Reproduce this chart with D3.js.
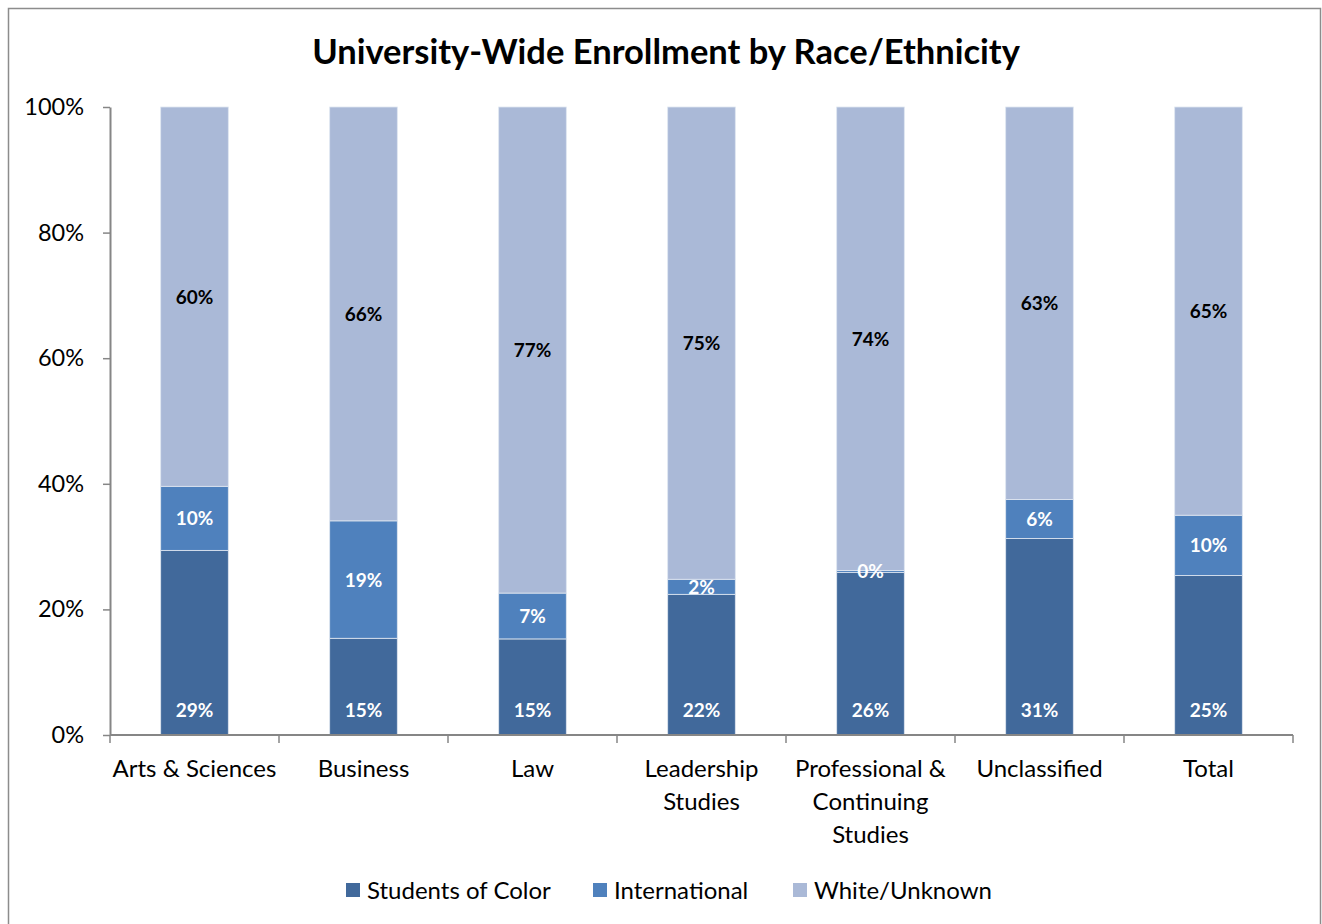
<!DOCTYPE html>
<html>
<head>
<meta charset="utf-8">
<script src="https://cdn.jsdelivr.net/npm/d3@7"></script>
<style>
  body { margin: 0; background: #fff; }
  svg { font-family: Lato, "Open Sans", sans-serif; }
</style>
</head>
<body>
<svg width="1322" height="924"></svg>
<script>
var categories = ["Arts & Sciences", "Business", "Law", "Leadership Studies",
    "Professional & Continuing Studies", "Unclassified", "Total"];
var categoryLines = [["Arts & Sciences"], ["Business"], ["Law"], ["Leadership", "Studies"],
    ["Professional &", "Continuing", "Studies"], ["Unclassified"], ["Total"]];
var seriesNames = ["Students of Color", "International", "White/Unknown"];
var studentsOfColor = [29.4, 15.4, 15.3, 22.4, 25.9, 31.3, 25.4];
var international = [10.2, 18.7, 7.3, 2.4, 0.3, 6.2, 9.6];
var whiteUnknown = [60.4, 65.9, 77.4, 75.2, 73.8, 62.5, 65.0];
var yTicks = [0, 20, 40, 60, 80, 100];
var colors = ["#41699b", "#4f81bd", "#aab9d7"];

var svg = d3.select("svg"),
    margin = {top: 107, right: 29, bottom: 189, left: 110},
    width = +svg.attr("width") - margin.left - margin.right,
    height = +svg.attr("height") - margin.top - margin.bottom;

// outer frame
svg.append("rect")
    .attr("x", 8.5).attr("y", 8.5)
    .attr("width", 1312).attr("height", 930)
    .attr("fill", "none").attr("stroke", "#8c8c8c").attr("stroke-width", 1.5);

svg.append("text")
    .attr("x", 666).attr("y", 64)
    .attr("text-anchor", "middle")
    .attr("font-size", 34.5).attr("font-weight", "bold")
    .text("University-Wide Enrollment by Race/Ethnicity");

var g = svg.append("g").attr("transform", "translate(" + margin.left + "," + margin.top + ")");

var x = d3.scaleBand().domain(categories).range([0, width]).paddingInner(0.6).paddingOuter(0.3);
var xOuter = d3.scaleBand().domain(categories).range([0, width]);
var y = d3.scaleLinear().domain([0, 100]).range([height, 0]);

var rows = categories.map(function (c, i) {
    return {cat: c, "Students of Color": studentsOfColor[i], "International": international[i], "White/Unknown": whiteUnknown[i]};
});
var stacked = d3.stack().keys(seriesNames)(rows);

var layers = g.selectAll("g.layer").data(stacked).enter().append("g")
    .attr("class", "layer")
    .attr("fill", function (d, i) { return colors[i]; });

layers.selectAll("rect").data(function (d) { return d; }).enter().append("rect")
    .attr("x", function (d) { return x(d.data.cat); })
    .attr("width", x.bandwidth())
    .attr("y", function (d) { return y(d[1]); })
    .attr("height", function (d) { return y(d[0]) - y(d[1]); })
    .attr("stroke", "#dfe6f0").attr("stroke-width", 0.8);

// data labels, drawn after all bars
var labels = g.append("g");
stacked.forEach(function (layer, li) {
    labels.selectAll("text.l" + li).data(layer).enter().append("text")
        .attr("class", "l" + li)
        .attr("x", function (d) { return x(d.data.cat) + x.bandwidth() / 2; })
        .attr("y", function (d) {
            if (li === 0) return height - 25 + 7;
            return (y(d[0]) + y(d[1])) / 2 + 7;
        })
        .attr("text-anchor", "middle")
        .attr("font-size", 19).attr("font-weight", "bold")
        .attr("fill", li === 2 ? "#000" : "#fff")
        .text(function (d) { return Math.round(d[1] - d[0]) + "%"; });
});

// y axis
var yAxis = g.append("g")
    .call(d3.axisLeft(y).tickValues(yTicks).tickSize(7).tickSizeOuter(0)
        .tickFormat(function (d) { return d + "%"; }));
yAxis.select(".domain").attr("stroke", "#868686").attr("stroke-width", 2);
yAxis.selectAll(".tick line").attr("stroke", "#868686").attr("stroke-width", 1.5);
yAxis.selectAll(".tick text").attr("font-size", 23.5).attr("fill", "#000").attr("x", -26)
    .attr("font-family", "Lato, sans-serif");

// x axis
var xAxisG = g.append("g").attr("transform", "translate(0," + height + ")");
xAxisG.append("line").attr("x1", 0).attr("x2", width)
    .attr("stroke", "#868686").attr("stroke-width", 2);
xAxisG.selectAll("line.tick").data(d3.range(categories.length + 1)).enter().append("line")
    .attr("class", "tick")
    .attr("x1", function (i) { return i * xOuter.step(); })
    .attr("x2", function (i) { return i * xOuter.step(); })
    .attr("y1", 0).attr("y2", 8)
    .attr("stroke", "#868686").attr("stroke-width", 1.5);

xAxisG.selectAll("text.cat").data(categories).enter().append("text")
    .attr("class", "cat")
    .attr("text-anchor", "middle")
    .attr("font-size", 24)
    .attr("transform", function (d) { return "translate(" + (xOuter(d) + xOuter.bandwidth() / 2) + ",42)"; })
    .each(function (d, i) {
        var t = d3.select(this);
        categoryLines[i].forEach(function (line, k) {
            t.append("tspan").attr("x", 0).attr("y", k * 33).text(line);
        });
    });

// legend
var legendX = [346, 593, 793];
var legend = svg.append("g");
seriesNames.forEach(function (name, i) {
    legend.append("rect")
        .attr("x", legendX[i]).attr("y", 883)
        .attr("width", 14).attr("height", 14)
        .attr("fill", colors[i]);
    legend.append("text")
        .attr("x", legendX[i] + 21).attr("y", 899)
        .attr("font-size", 24)
        .text(name);
});
</script>
</body>
</html>
